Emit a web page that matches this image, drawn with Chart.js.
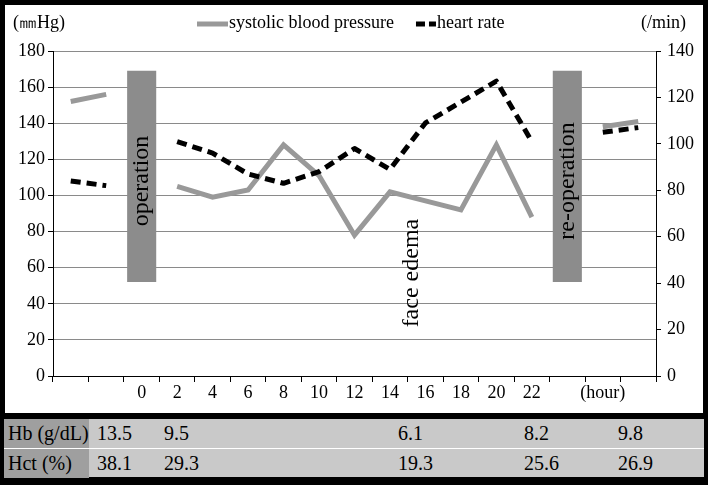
<!DOCTYPE html>
<html>
<head>
<meta charset="utf-8">
<script src="https://cdn.jsdelivr.net/npm/chart.js@4"></script>
<style>
  html, body { margin: 0; padding: 0; background: #000; }
  body { width: 708px; height: 485px; position: relative; overflow: hidden; font-family: "Liberation Serif", serif; }
  #plot { position: absolute; left: 5px; top: 5px; width: 698px; height: 408px; background: #fff; }
  #lab { position: absolute; left: 4px; top: 419px; width: 700px; height: 58px; background: #c9c9c9; }
  .row { position: absolute; left: 0; width: 700px; height: 29px; }
  .row .head { position: absolute; left: 0; top: 0; width: 85px; height: 100%; background: #9f9f9f; }
  .row span { position: absolute; top: 0; line-height: 29px; font-size: 20px; color: #000; white-space: nowrap; }
</style>
</head>
<body>
<div id="plot"><canvas id="myChart" width="698" height="408"></canvas></div>
<div id="lab"></div>
<script>
const hours = ['', '', '0', '2', '4', '6', '8', '10', '12', '14', '16', '18', '20', '22', '', '(hour)', ''];
const sbp = [152, 156, null, 105, 99, 103, 128, 111, 78, 102, 97, 92, 128, 88, null, 138, 141];
const heartRate = [84, 82, null, 101, 96, 87, 83, 88, 98, 89, 109, 118, 127, 101, null, 105, 107];
const events = ['operation', 're-operation'];
const eventAt = [2, 14];
const eventSpan = [52, 169];
const leftTicks = [0, 180, 20];
const rightTicks = [0, 140, 20];

const labRows = ['Hb (g/dL)', 'Hct (%)'];
const hb = [13.5, 9.5, 6.1, 8.2, 9.8];
const hct = [38.1, 29.3, 19.3, 25.6, 26.9];

// lab table (positions kept apart from the values)
const labColX = [93, 160, 394, 520, 614];
const labTable = document.getElementById('lab');
[hb, hct].forEach((vals, r) => {
  const row = document.createElement('div');
  row.className = 'row';
  row.style.top = (r * 30) + 'px';
  row.innerHTML = '<div class="head"></div><span style="left:4px">' + labRows[r] + '</span>' +
    vals.map((v, i) => '<span style="left:' + labColX[i] + 'px">' + v.toFixed(1) + '</span>').join('');
  labTable.appendChild(row);
});
const sep = document.createElement('div');
sep.style.cssText = 'position:absolute;left:0;top:29px;width:700px;height:1px;background:#fff';
labTable.appendChild(sep);

const eventBars = hours.map((h, i) => eventAt.includes(i) ? eventSpan : null);

Chart.defaults.font.family = '"Liberation Serif", serif';
Chart.defaults.font.size = 18;
Chart.defaults.color = '#000';

function upText(ctx, text, x, y) {
  ctx.save();
  ctx.translate(x, y);
  ctx.rotate(-Math.PI / 2);
  ctx.fillText(text, 0, 0);
  ctx.restore();
}

const notes = {
  id: 'notes',
  afterDatasetsDraw(chart) {
    const ctx = chart.ctx;
    const x = chart.scales.x;
    const y = chart.scales.y;
    const bars = chart.getDatasetMeta(0).data;
    ctx.save();
    ctx.fillStyle = '#000';
    ctx.font = '24px "Liberation Serif"';
    ctx.textAlign = 'center';
    ctx.textBaseline = 'middle';
    eventAt.forEach((idx, i) => upText(ctx, events[i], bars[idx].x, y.getPixelForValue(108)));
    upText(ctx, 'face edema', x.getPixelForValue(9.62), y.getPixelForValue(57));
    ctx.restore();
  },
  afterDraw(chart) {
    const ctx = chart.ctx;
    const ds = chart.data.datasets;
    const area = chart.chartArea;
    ctx.save();
    ctx.font = '18px "Liberation Serif"';
    ctx.fillStyle = '#000';
    ctx.textBaseline = 'middle';
    ctx.textAlign = 'left';
    ctx.fillText('(㎜Hg)', 8, 18);
    ctx.textAlign = 'right';
    ctx.fillText('(/min)', area.right + 30, 18);
    // legend
    ctx.textAlign = 'left';
    let lx = 192;
    [[ds[1], 31, []], [ds[2], 20, [9, 4]]].forEach(([d, w, dash]) => {
      ctx.save();
      ctx.strokeStyle = d.borderColor;
      ctx.lineWidth = d.borderWidth;
      ctx.setLineDash(dash);
      ctx.beginPath();
      ctx.moveTo(lx, 19);
      ctx.lineTo(lx + w, 19);
      ctx.stroke();
      ctx.restore();
      ctx.fillText(d.label, lx + w + 1, 18);
      lx = lx + w + 1 + ctx.measureText(d.label).width + 22;
    });
    ctx.restore();
  }
};

const config = {
  type: 'bar',
  data: {
    labels: hours,
    datasets: [
      {
        type: 'bar',
        label: 'events',
        data: eventBars,
        yAxisID: 'y',
        backgroundColor: '#8c8c8c',
        barPercentage: 0.82,
        categoryPercentage: 1,
        order: 3
      },
      {
        type: 'line',
        label: 'systolic blood pressure',
        data: sbp,
        yAxisID: 'y',
        borderColor: '#999999',
        backgroundColor: '#999999',
        borderWidth: 5,
        pointRadius: 0,
        spanGaps: false,
        order: 2
      },
      {
        type: 'line',
        label: 'heart rate',
        data: heartRate,
        yAxisID: 'y1',
        borderColor: '#000000',
        backgroundColor: '#000000',
        borderWidth: 5,
        borderDash: [10, 6],
        borderJoinStyle: 'round',
        pointRadius: 0,
        spanGaps: false,
        order: 1
      }
    ]
  },
  options: {
    responsive: false,
    animation: false,
    layout: { padding: { top: 46, left: 0, right: 0, bottom: 0 } },
    plugins: {
      legend: { display: false },
      tooltip: { enabled: false }
    },
    scales: {
      x: {
        offset: true,
        grid: { offset: true, drawOnChartArea: false, tickLength: 6, tickColor: '#000' },
        border: { color: '#000' },
        ticks: { padding: 0, maxRotation: 0, autoSkip: false },
        afterFit(s) { s.height = 37; }
      },
      y: {
        position: 'left',
        min: leftTicks[0],
        max: leftTicks[1],
        ticks: { stepSize: leftTicks[2], padding: 3 },
        grid: { color: '#8a8a8a', tickLength: 5, tickColor: '#000' },
        border: { color: '#000' },
        afterFit(s) { s.width = 48; }
      },
      y1: {
        position: 'right',
        min: rightTicks[0],
        max: rightTicks[1],
        ticks: { stepSize: rightTicks[2], padding: 6 },
        grid: { drawOnChartArea: false, tickLength: 5, tickColor: '#000' },
        border: { color: '#000' },
        afterFit(s) { s.width = 47; }
      }
    }
  },
  plugins: [notes]
};

const myChart = new Chart(document.getElementById('myChart'), config);
</script>
</body>
</html>
